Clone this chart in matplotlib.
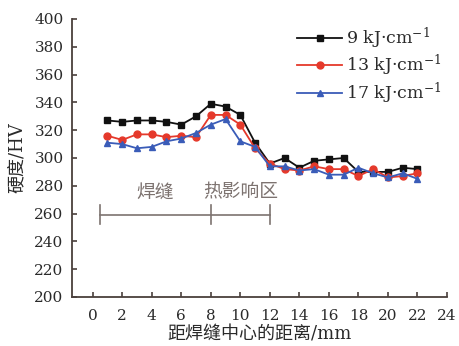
import matplotlib
matplotlib.use("Agg")
import matplotlib.pyplot as plt

plt.rcParams['font.family'] = ['DejaVu Serif', 'Noto Sans CJK SC']
plt.rcParams['mathtext.fontset'] = 'dejavuserif'

# Data
distance = list(range(1, 23))
hv_9 = [327, 326, 327, 327, 326, 324, 330, 339, 337, 331, 311, 296,
        300, 293, 298, 299, 300, 290, 290, 290, 293, 292]
hv_13 = [316, 313, 317, 317, 315, 316, 315, 331, 331, 324, 307, 296,
         292, 291, 294, 292, 292, 287, 292, 286, 287, 289]
hv_17 = [311, 310, 307, 308, 312, 314, 318, 324, 328, 312, 308, 294,
         294, 291, 292, 288, 288, 293, 289, 286, 289, 285]
series_labels = [r'9 kJ·cm$^{-1}$', r'13 kJ·cm$^{-1}$', r'17 kJ·cm$^{-1}$']
zone_edges = [0.5, 8, 12]

axis_color = '#4a403c'
bracket_color = '#7d7370'
text_color = '#2a2a2a'

fig = plt.figure(figsize=(4.6, 3.46), dpi=100)
ax = fig.add_axes([72 / 460, 49 / 346, 375 / 460, 278 / 346])

ax.plot(distance, hv_9, color='#111111', marker='s', markersize=5, linewidth=1.3, label=series_labels[0])
ax.plot(distance, hv_13, color='#e5392b', marker='o', markersize=5, linewidth=1.3, label=series_labels[1])
ax.plot(distance, hv_17, color='#3a5cb8', marker='^', markersize=5, linewidth=1.3, label=series_labels[2])

# zone bracket
ax.plot([zone_edges[0], zone_edges[-1]], [259, 259], color=bracket_color, linewidth=1.2)
for xe in zone_edges:
    ax.plot([xe, xe], [252.5, 266.5], color=bracket_color, linewidth=1.2)
ax.text(4.2, 275, '焊缝', color=bracket_color, fontsize=13.5, ha='center', va='center')
ax.text(10.0, 275, '热影响区', color=bracket_color, fontsize=13.5, ha='center', va='center')

ax.set_xlim(-1.4, 24)
ax.set_ylim(200, 400)
ax.set_xticks(range(0, 25, 2))
ax.set_yticks(range(200, 401, 20))

for side in ['top', 'right']:
    ax.spines[side].set_visible(False)
for side in ['left', 'bottom']:
    ax.spines[side].set_color(axis_color)
    ax.spines[side].set_linewidth(1.3)
ax.tick_params(direction='in', length=3.5, width=1.2, color=axis_color,
               labelsize=11, labelcolor=text_color)
ax.tick_params(axis='x', pad=8.5)
ax.tick_params(axis='y', pad=6)

ax.set_xlabel('距焊缝中心的距离/mm', fontsize=13, color=text_color, labelpad=2)
ax.set_ylabel('硬度/HV', fontsize=13, color=text_color, labelpad=6)

leg = ax.legend(loc='upper left', bbox_to_anchor=(0.6, 0.975), frameon=False,
                fontsize=12.5, handlelength=2.6, handletextpad=0.2, labelspacing=0.12,
                borderaxespad=0, borderpad=0)
for t in leg.get_texts():
    t.set_color(text_color)

fig.savefig('out.png', dpi=100)
